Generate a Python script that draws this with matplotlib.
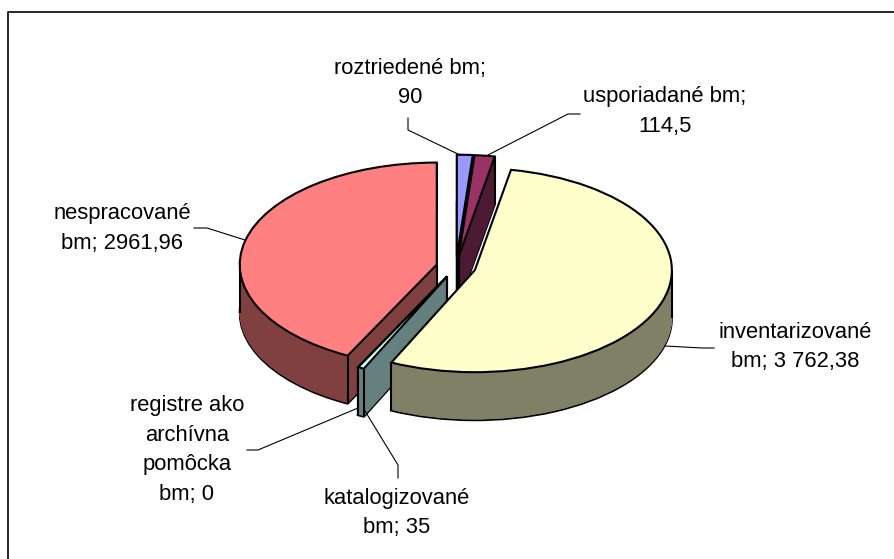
import math
import matplotlib
matplotlib.use("Agg")
import matplotlib.pyplot as plt
from matplotlib.lines import Line2D

# ---- data ----
categories = ["roztriedené bm", "usporiadané bm", "inventarizované bm",
              "katalogizované bm", "registre ako archívna pomôcka bm", "nespracované bm"]
values = [90, 114.5, 3762.38, 35, 0, 2961.96]
value_labels = ["roztriedené bm;\n90", "usporiadané bm;\n114,5", "inventarizované\nbm; 3 762,38",
                "katalogizované\nbm; 35", "registre ako\narchívna\npomôcka\nbm; 0", "nespracované\nbm; 2961,96"]
top_colors = ["#9999FF", "#993366", "#FFFFCC", "#CCFFFF", "#660066", "#FF8080"]
side_colors = ["#4D4D80", "#4D1A33", "#808066", "#668080", "#330033", "#804040"]
draw_order = [0, 1, 5, 4, 3, 2]  # back to front

# ---- layout (pixels of the 895x559 figure) ----
W, H = 895, 559
SQUASH = 0.518          # vertical pixels per data unit
RADIUS = 197
EXPLODE = 19.8
CX, CY = 456, 267
DEPTH = 48
label_pos = [(410, 83), (665, 111.5), (795, 347), (397, 513), (187, 450), (122, 228.5)]
leaders = [
    [(408, 118), (408, 130), (460, 155)],
    [(580, 114), (568, 114), (488, 155)],
    [(714, 348), (702, 348), (665, 346)],
    [(398, 478), (398, 465), (365, 411)],
    [(247, 450), (258, 450), (358, 408)],
    [(194, 228), (207, 228), (245, 240)],
]
FONT = "Liberation Sans"

def Y(py):
    return (H - py) / SQUASH

fig = plt.figure(figsize=(W / 100, H / 100), dpi=100, facecolor="white")
ax = fig.add_axes([0, 0, 1, 1])

explode = [EXPLODE] * len(values)

def draw_pie(py, **wedgeprops):
    wedges, _ = ax.pie(values, explode=explode, startangle=90, counterclock=False,
                       radius=RADIUS, center=(CX, Y(py)), frame=False,
                       wedgeprops=wedgeprops)
    return wedges

LW = 1.5
base_z = {idx: 10 + 200 * i for i, idx in enumerate(draw_order)}

# bottom face with outline
for idx, w in enumerate(draw_pie(CY + DEPTH, linewidth=LW, edgecolor="black")):
    w.set_facecolor(side_colors[idx])
    w.set_zorder(base_z[idx])

# extruded body (edge in the slice's own colour so very thin slices stay solid)
for step in range(1, DEPTH):
    for idx, w in enumerate(draw_pie(CY + DEPTH - step, linewidth=0.6)):
        w.set_facecolor(side_colors[idx])
        w.set_edgecolor(side_colors[idx])
        w.set_zorder(base_z[idx] + step)

# vertical edges of each slice, then the top face with outline
for idx, w in enumerate(draw_pie(CY, linewidth=LW, edgecolor="black")):
    w.set_facecolor(top_colors[idx])
    w.set_zorder(base_z[idx] + DEPTH + 1)
    cx, cy = w.center
    angles = [w.theta1, w.theta2]
    for extreme in (0, 180, 360, -180):
        if w.theta1 < extreme < w.theta2:
            angles.append(extreme)
    xs = [cx] + [cx + RADIUS * math.cos(math.radians(a)) for a in angles]
    ys = [cy] + [cy + RADIUS * math.sin(math.radians(a)) for a in angles]
    for x, y in zip(xs, ys):
        ax.plot([x, x], [y, y - DEPTH / SQUASH], color="black", lw=LW,
                zorder=base_z[idx] + DEPTH, solid_capstyle="butt")

ax.set_aspect("auto")
ax.set_xlim(0, W)
ax.set_ylim(0, H / SQUASH)
ax.set_axis_off()

# chart border: only the top and left edges are inside the picture
fig.add_artist(Line2D([8 / W, 8 / W, 1], [0, 1 - 12 / H, 1 - 12 / H],
                      transform=fig.transFigure, color="black", lw=1.2))

# leader lines and labels
for pts in leaders:
    ax.plot([p[0] for p in pts], [Y(p[1]) for p in pts], color="black", lw=0.8, zorder=3000)
for text, (x, y) in zip(value_labels, label_pos):
    ax.text(x, Y(y), text, ha="center", va="center", fontsize=15.8, family=FONT,
            linespacing=1.56, color="black", zorder=3001)

fig.savefig("out.png", dpi=100)
